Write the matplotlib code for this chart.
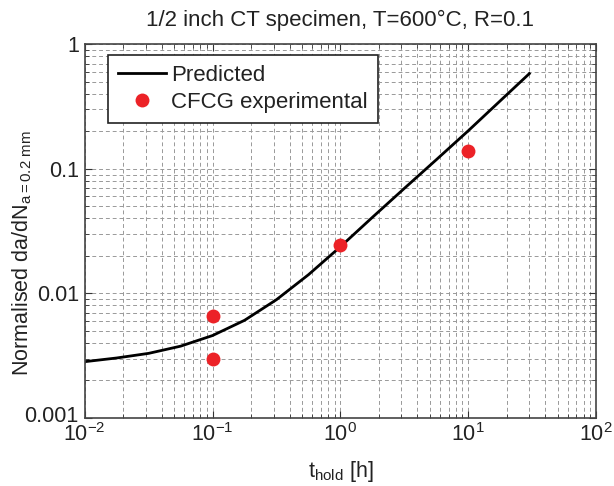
import matplotlib
matplotlib.use("Agg")
import matplotlib.pyplot as plt
import matplotlib.transforms as mtransforms
from matplotlib.ticker import LogLocator, NullFormatter

# -------------------------------
# DATOS
# -------------------------------
t_pred = [0.01, 0.01778, 0.03162, 0.05623, 0.1, 0.1778, 0.3162, 0.5623,
          1.0, 1.778, 3.162, 5.623, 10.0, 17.78, 30.0]
y_pred = [0.00283, 0.00303, 0.00330, 0.00377, 0.00459, 0.00608, 0.00891,
          0.01413, 0.02371, 0.0408, 0.0697, 0.1184, 0.2022, 0.3516, 0.5808]

t_exp = [0.1, 0.1, 1.0, 10.0]
y_exp = [0.0066, 0.0030, 0.0244, 0.138]

y_ticks = [0.001, 0.01, 0.1, 1]
y_tick_labels = ["0.001", "0.01", "0.1", "1"]

# -------------------------------
# ESTILO
# -------------------------------
plt.rcParams["font.family"] = ["Liberation Sans", "DejaVu Sans"]
plt.rcParams["mathtext.fontset"] = "custom"
plt.rcParams["mathtext.rm"] = "Liberation Sans"
plt.rcParams["mathtext.it"] = "Liberation Sans"

fig = plt.figure(figsize=(6.14, 4.86), dpi=100)
ax = fig.add_axes([0.138, 0.140, 0.833, 0.769])

# -------------------------------
# GRÁFICO
# -------------------------------
ax.plot(t_pred, y_pred, color="black", lw=2.0, label="Predicted")
ax.plot(t_exp, y_exp, "o", color="#ec2227", markersize=10, markeredgewidth=0,
        label="CFCG experimental")

ax.set_xscale("log")
ax.set_yscale("log")
ax.set_xlim(1e-2, 1e2)
ax.set_ylim(1e-3, 1)

ax.xaxis.set_major_locator(LogLocator(base=10, numticks=10))
ax.xaxis.set_minor_locator(LogLocator(base=10, subs=range(2, 10), numticks=10))
ax.yaxis.set_minor_locator(LogLocator(base=10, subs=range(2, 10), numticks=10))
ax.xaxis.set_minor_formatter(NullFormatter())
ax.yaxis.set_minor_formatter(NullFormatter())
ax.set_yticks(y_ticks)
ax.set_yticklabels(y_tick_labels)

ax.grid(True, which="both", linestyle=(0, (4, 3)), color="#999999", lw=0.7)
ax.tick_params(which="both", direction="in", top=True, right=True,
               labelsize=15.5, colors="#333333", labelcolor="#222222")
ax.tick_params(which="major", length=5)
ax.tick_params(which="minor", length=3)
ax.tick_params(axis="x", which="major", pad=3.5)
ax.tick_params(axis="y", which="major", pad=4.3)
for s in ax.spines.values():
    s.set_linewidth(1.2)
    s.set_color("#444444")

# subir un poco la etiqueta 0.001 para que no choque con 10^-2
lbl = ax.get_yticklabels()[0]
lbl.set_transform(lbl.get_transform() +
                  mtransforms.ScaledTranslation(0, 3 / 72, fig.dpi_scale_trans))

ax.set_title("1/2 inch CT specimen, T=600°C, R=0.1", fontsize=16, pad=13,
             color="#222222")
ax.set_xlabel("t$_{\\mathrm{hold}}$ [h]", fontsize=15.5, color="#222222")
ax.set_ylabel("Normalised da/dN$_{\\mathrm{a=0.2\\ mm}}$", fontsize=15.5,
              color="#222222")
ax.xaxis.set_label_coords(0.5, -0.110)
ax.yaxis.set_label_coords(-0.10, 0.44)

leg = ax.legend(loc="upper left", bbox_to_anchor=(0.045, 0.9706),
                borderaxespad=0, fontsize=16, frameon=True, fancybox=False,
                edgecolor="#222222", borderpad=0.45, handlelength=2.16,
                handletextpad=0.25, labelspacing=0.25)
leg.get_frame().set_linewidth(1.2)
leg.get_frame().set_alpha(1)
for txt in leg.get_texts():
    txt.set_color("#222222")

fig.savefig("out.png", dpi=100)
